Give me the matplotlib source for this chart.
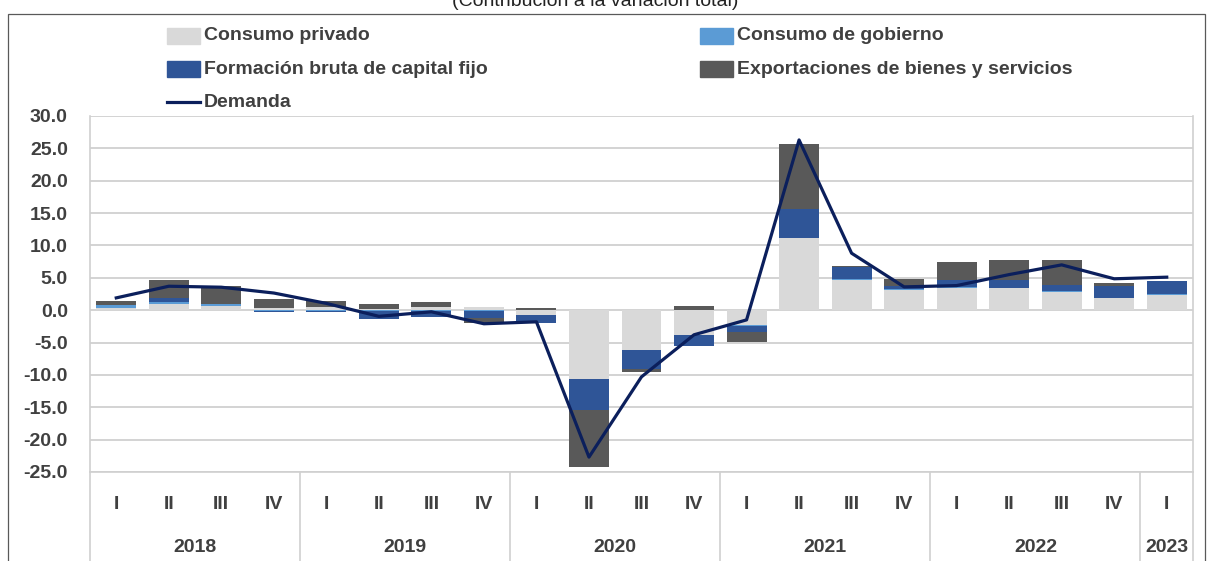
import matplotlib
matplotlib.use("Agg")
import matplotlib.pyplot as plt
from matplotlib.patches import Rectangle
from matplotlib.lines import Line2D
import numpy as np

plt.rcParams['font.family'] = ['Liberation Sans', 'DejaVu Sans']
plt.rcParams['font.weight'] = 'bold'

# data
quarters = ['I', 'II', 'III', 'IV'] * 5 + ['I']
years = ['2018', '2019', '2020', '2021', '2022', '2023']
year_sizes = [4, 4, 4, 4, 4, 1]

consumo_privado = [0.4, 0.93, 0.62, 0.4,
                   0.52, 0.2, 0.5, 0.55,
                   -0.78, -10.6, -6.16, -3.8,
                   -2.33, 11.1, 4.66, 3.1,
                   3.5, 3.36, 2.8, 1.86,
                   2.28]
consumo_gobierno = [0.35, 0.4, 0.3, -0.05,
                    -0.1, -0.2, -0.2, -0.1,
                    0.0, 0.0, 0.0, -0.1,
                    -0.15, 0.1, 0.1, 0.1,
                    0.05, 0.05, 0.2, 0.05,
                    0.2]
fbkf = [0.1, 0.62, 0.05, -0.3,
        -0.2, -1.1, -0.85, -1.05,
        -1.24, -4.86, -2.9, -1.7,
        -0.83, 4.5, 1.97, 0.5,
        1.04, 1.3, 0.93, 1.8,
        2.07]
exportaciones = [0.6, 2.75, 2.7, 1.35,
                 0.83, 0.75, 0.72, -0.9,
                 0.36, -8.8, -0.52, 0.72,
                 -1.55, 10.0, 0.05, 1.14,
                 2.9, 3.1, 3.83, 0.52,
                 0.0]
demanda = [1.9, 3.7, 3.55, 2.65,
           1.05, -0.95, -0.25, -2.1,
           -1.8, -22.7, -10.3, -3.8,
           -1.5, 26.3, 8.8, 3.6,
           3.8, 5.5, 7.0, 4.85,
           5.1]

names = ['Consumo privado', 'Consumo de gobierno',
         'Formación bruta de capital fijo', 'Exportaciones de bienes y servicios']
colors = ['#d9d9d9', '#5b9bd5', '#2f5597', '#595959']
line_color = '#0b1f5c'
txt = '#404040'

W, H = 1213, 561
fig = plt.figure(figsize=(W / 100, H / 100), dpi=100)
ax = fig.add_axes([90 / W, 89 / H, 1103 / W, 356 / H])

x = np.arange(len(quarters))
pos = np.zeros(len(x))
neg = np.zeros(len(x))
for vals, c in zip([consumo_privado, consumo_gobierno, fbkf, exportaciones], colors):
    v = np.array(vals)
    bottom = np.where(v >= 0, pos, neg)
    ax.bar(x, v, 0.76, bottom=bottom, color=c, zorder=2)
    pos += np.clip(v, 0, None)
    neg += np.clip(v, None, 0)

ax.plot(x, demanda, color=line_color, lw=2.3, zorder=3)

ax.set_xlim(-0.5, len(x) - 0.5)
ax.set_ylim(-25, 30)
ax.set_yticks(np.arange(-25, 31, 5))
ax.set_yticklabels([f'{v:.1f}' for v in np.arange(-25, 31, 5)])
ax.yaxis.grid(True, color='#d0d0d0', lw=1.3, zorder=0)
ax.set_axisbelow(True)
for s in ['left', 'right', 'bottom']:
    ax.spines[s].set_color('#d0d0d0')
    ax.spines[s].set_linewidth(1.2)
ax.spines['top'].set_visible(False)
ax.tick_params(axis='y', length=0, pad=16, labelsize=14, labelcolor=txt)
ax.set_xticks(x)
ax.set_xticklabels(quarters)
ax.tick_params(axis='x', length=0, pad=17, labelsize=14, labelcolor=txt)

# year labels and separators below the axis
trans = ax.get_xaxis_transform()
start = 0
for yr, n in zip(years, year_sizes):
    ax.text(start + (n - 1) / 2, -75 / 356, yr, transform=trans, ha='center', va='center',
            fontsize=14, color=txt)
    start += n
edges = np.cumsum([0] + year_sizes) - 0.5
for e in edges:
    ax.add_line(Line2D([e, e], [0, -0.26], transform=trans, color='#d0d0d0', lw=1.2,
                       clip_on=False))

# outer frame and cropped title
fig.add_artist(Rectangle((8 / W, -0.05), 1197 / W, 1.05 - 14 / H, transform=fig.transFigure,
                         fill=False, edgecolor='#595959', lw=0.9))
fig.text(595 / W, 1 - 2 / H, '(Contribución a la variación total)', ha='center', va='center',
         fontsize=14, fontweight='normal', color='#222222')

# legend drawn by hand
entries = [(names[0], colors[0], 167, 36), (names[1], colors[1], 700, 36),
           (names[2], colors[2], 167, 69), (names[3], colors[3], 700, 69)]
for name, c, px, py in entries:
    fig.add_artist(Rectangle((px / W, 1 - (py + 8) / H), 33 / W, 16 / H,
                             transform=fig.transFigure, color=c))
    fig.text((px + 37) / W, 1 - py / H, name, ha='left', va='center', fontsize=14, color=txt)
fig.add_artist(Line2D([167 / W, 200 / W], [1 - 102 / H, 1 - 102 / H], transform=fig.transFigure,
                      color=line_color, lw=2.3))
fig.text(204 / W, 1 - 102 / H, 'Demanda', ha='left', va='center', fontsize=14, color=txt)

fig.savefig('out.png', dpi=100)
